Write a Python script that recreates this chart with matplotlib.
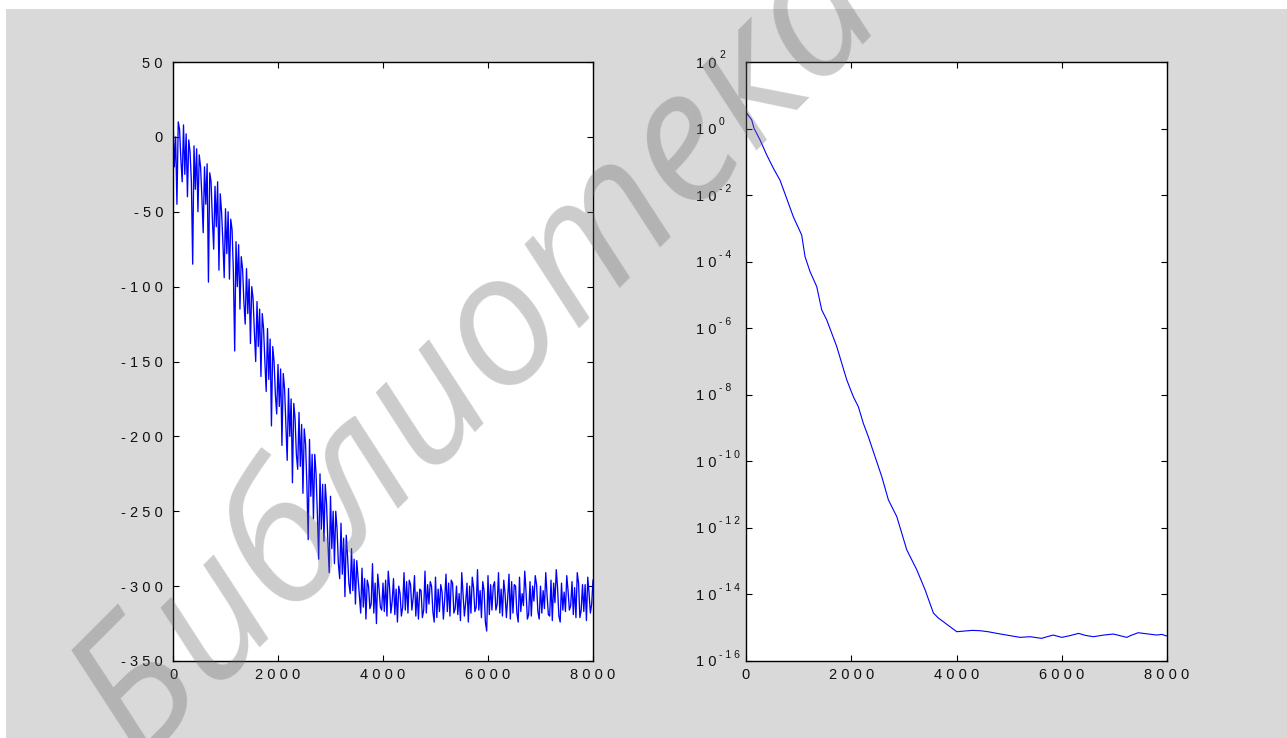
import numpy as np
import matplotlib
matplotlib.use("Agg")
import matplotlib.pyplot as plt
from matplotlib.patches import Rectangle
from matplotlib.transforms import blended_transform_factory, offset_copy

plt.rcParams['font.family'] = ['Liberation Sans', 'DejaVu Sans']

# ---------------- data ----------------
# left panel: noisy series, sampled every 25 units in four interleaved lists
# upper swings at x = 0, 100, ...
left_hi_x = list(range(0, 8001, 100))
left_hi = [14, 10, 8, -2, -6, -12, -20, -24, -33, -38,
           -48, -55, -70, -80, -88, -100, -110, -118, -128, -140,
           -152, -158, -168, -178, -184, -195, -202, -212, -225, -232,
           -240, -250, -258, -266, -275, -283, -288, -296, -285, -292,
           -298, -290, -295, -300, -291, -296, -293, -302, -290, -297,
           -294, -299, -292, -296, -300, -291, -298, -294, -289, -297,
           -293, -300, -291, -296, -292, -299, -294, -290, -297, -293,
           -300, -291, -296, -289, -298, -293, -297, -291, -299, -294,
           -296]
# lower swings at x = 25, 125, ...
left_m1_x = list(range(25, 8000, 100))
left_m1 = [-20, 5, -25, -10, -35, -20, -45, -30, -60, -50,
           -78, -62, -100, -88, -118, -108, -140, -128, -162, -150,
           -180, -168, -200, -188, -220, -205, -240, -225, -262, -245,
           -275, -262, -292, -280, -303, -295, -314, -300, -318, -302,
           -317, -301, -319, -305, -316, -299, -320, -303, -318, -300,
           -321, -304, -317, -298, -319, -306, -324, -301, -316, -303,
           -319, -297, -318, -305, -322, -300, -317, -304, -320, -299,
           -318, -306, -323, -301, -316, -303, -319, -298, -317, -305]
# upper swings at x = 50, 150, ...
left_m2_x = list(range(50, 8000, 100))
left_m2 = [0, -15, 2, -30, -8, -40, -18, -55, -30, -70,
           -50, -90, -72, -110, -95, -130, -115, -150, -135, -172,
           -155, -192, -175, -212, -192, -232, -212, -252, -232, -270,
           -250, -285, -268, -298, -282, -308, -295, -315, -298, -314,
           -296, -318, -302, -320, -297, -316, -304, -321, -299, -317,
           -302, -322, -298, -318, -305, -320, -300, -317, -303, -324,
           -299, -316, -302, -321, -297, -318, -305, -322, -300, -317,
           -303, -319, -298, -320, -304, -316, -301, -321, -299, -318]
# deep swings at x = 75, 175, ...
left_lo_x = list(range(75, 8000, 100))
left_lo = [-45, -30, -40, -85, -50, -64, -97, -75, -89, -94,
           -95, -143, -115, -125, -138, -150, -160, -170, -193, -185,
           -206, -216, -231, -222, -238, -269, -255, -282, -270, -291,
           -285, -295, -307, -305, -312, -318, -322, -312, -325, -316,
           -320, -310, -324, -314, -318, -308, -322, -316, -312, -324,
           -317, -309, -320, -315, -323, -311, -318, -314, -321, -330,
           -316, -312, -320, -308, -318, -324, -313, -319, -310, -322,
           -315, -320, -311, -324, -317, -313, -321, -316, -323, -312]

# right panel: log10 of the error curve
right_x = [20, 108, 152, 266, 393, 519, 646, 773, 899, 1058,
           1122, 1217, 1344, 1439, 1534, 1629, 1724, 1819, 1914, 2040,
           2135, 2230, 2325, 2452, 2580, 2706, 2865, 3055, 3245, 3403,
           3561, 3656, 4005, 4150, 4300, 4449, 4600, 4766, 4950, 5209,
           5400, 5621, 5700, 5837, 6001, 6150, 6318, 6450, 6600, 6800,
           6980, 7237, 7300, 7452, 7600, 7808, 7900, 8000]
right_log = [0.45, 0.26, 0.01, -0.34, -0.79, -1.19, -1.55, -2.1, -2.65, -3.2,
             -3.85, -4.3, -4.75, -5.45, -5.75, -6.15, -6.55, -7.05, -7.55, -8.06,
             -8.36, -8.86, -9.26, -9.86, -10.46, -11.16, -11.66, -12.66, -13.26, -13.86,
             -14.56, -14.71, -15.12, -15.10, -15.08, -15.09, -15.12, -15.17, -15.22, -15.29,
             -15.27, -15.32, -15.28, -15.22, -15.29, -15.24, -15.17, -15.23, -15.27, -15.22,
             -15.19, -15.29, -15.24, -15.15, -15.18, -15.22, -15.20, -15.25]

x_ticks = [0, 2000, 4000, 6000, 8000]
left_yticks = [50, 0, -50, -100, -150, -200, -250, -300, -350]
right_exps = [2, 0, -2, -4, -6, -8, -10, -12, -14, -16]
watermark = "Библиотека БГУИР"

# ---------------- figure ----------------
W, H = 1287, 738
fig = plt.figure(figsize=(W / 100, H / 100), dpi=100, facecolor='white')
fig.patches.append(Rectangle((6 / W, 0), 1 - 6 / W, 1 - 9 / H, transform=fig.transFigure,
                             facecolor='#d9d9d9', edgecolor='none', zorder=-10))

axL = fig.add_axes([173 / W, 1 - 661 / H, 420 / W, 599 / H])
axR = fig.add_axes([746 / W, 1 - 661 / H, 421 / W, 599 / H])

# interleave the four sample lists in x order
lx, ly = [], []
for i in range(len(left_hi)):
    lx.append(left_hi_x[i]); ly.append(left_hi[i])
    if i < len(left_lo):
        lx.extend([left_m1_x[i], left_m2_x[i], left_lo_x[i]])
        ly.extend([left_m1[i], left_m2[i], left_lo[i]])
axL.plot(lx, ly, color='#0000ff', lw=0.95)
axR.semilogy(right_x, 10.0 ** np.array(right_log), color='#0000ff', lw=0.8)

def spaced(v):
    return " ".join(str(v))

for ax in (axL, axR):
    ax.set_facecolor('white')
    ax.set_xlim(0, 8000)
    ax.set_xticks(x_ticks)
    ax.set_xticklabels([spaced(v) for v in x_ticks])
    for s in ax.spines.values():
        s.set_linewidth(1.0)
        s.set_color('black')
    ax.tick_params(direction='in', length=4.3, width=0.8, top=True, right=True,
                   labelsize=10.5, colors='black', labelcolor='#111111')
    ax.tick_params(axis='x', pad=5)
    ax.minorticks_off()

axL.set_ylim(-350, 50)
axL.set_yticks(left_yticks)
axL.set_yticklabels([spaced(v) for v in left_yticks])
axL.tick_params(axis='y', pad=7.2)

axR.set_ylim(1e-16, 1e2)
axR.set_yticks([10.0 ** e for e in right_exps])
axR.yaxis.set_minor_locator(matplotlib.ticker.NullLocator())
axR.set_yticklabels(["1 0"] * len(right_exps))
axR.tick_params(axis='y', pad=21)
tr = blended_transform_factory(axR.transAxes, axR.transData)
tr = offset_copy(tr, fig=fig, x=-27 * 0.72, y=6.5 * 0.72, units='points')
for e in right_exps:
    axR.text(0, 10.0 ** e, spaced(e), transform=tr, ha='left', va='center',
             fontsize=7.5, color='#111111', clip_on=False)

# watermark
fig.text(140 / W, 1 - 768 / H, watermark, fontsize=132, rotation=45,
         rotation_mode='anchor', ha='left', va='baseline', style='italic',
         family=['Open Sans', 'Liberation Sans', 'DejaVu Sans'],
         color='#6a6a6a', alpha=0.34, zorder=10)

fig.savefig("out.png", dpi=100, facecolor=fig.get_facecolor())
